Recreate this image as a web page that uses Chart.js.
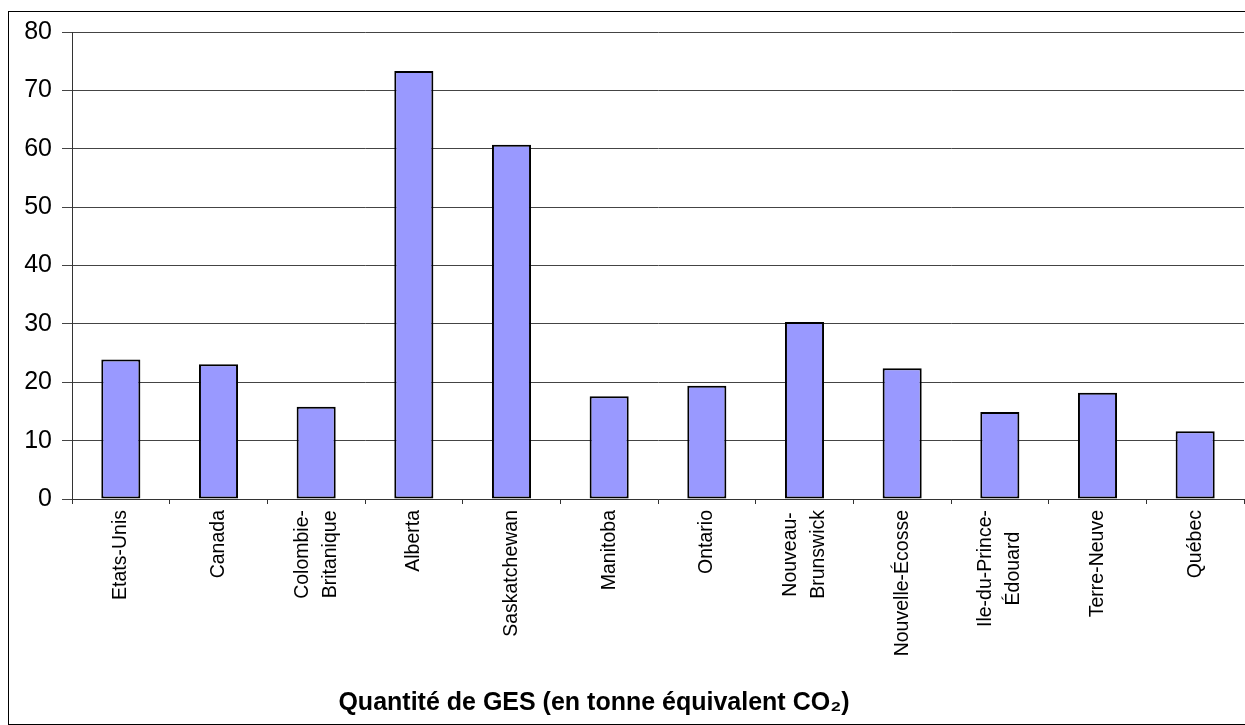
<!DOCTYPE html>
<html lang="fr">
<head>
    <meta charset="UTF-8">
    <title>Quantité de GES par province</title>
    <script src="https://cdn.jsdelivr.net/npm/chart.js"></script>
    <style>
        html, body { margin: 0; padding: 0; background: #fff; overflow: hidden; }
        #frame { position: absolute; left: 8px; top: 11px; width: 1300px; height: 712px; border: 1px solid #000; }
        #wrap { position: absolute; left: 0; top: 0; width: 1245px; height: 725px; }
    </style>
</head>
<body>
    <div id="frame"></div>
    <div id="wrap"><canvas id="gesChart"></canvas></div>

    <script>
        // Data
        const provinces = [
            'Etats-Unis', 'Canada', ['Colombie-', 'Britanique'], 'Alberta', 'Saskatchewan',
            'Manitoba', 'Ontario', ['Nouveau-', 'Brunswick'], 'Nouvelle-Écosse',
            ['Ile-du-Prince-', 'Édouard'], 'Terre-Neuve', 'Québec'
        ];
        const tonnesCO2 = [23.9, 23.1, 15.8, 73.3, 60.7, 17.6, 19.4, 30.3, 22.4, 14.9, 18.2, 11.6];
        const yTicks = [0, 10, 20, 30, 40, 50, 60, 70, 80];
        const titleText = 'Quantité de GES (en tonne équivalent CO₂)';

        // Rotated category labels (lines centred within their block) + bottom title
        const labelPlugin = {
            id: 'provinceLabels',
            afterDraw(chart) {
                const { ctx, scales: { x } } = chart;
                ctx.save();
                ctx.fillStyle = '#000';
                ctx.font = '19.5px "Liberation Sans", Arial, sans-serif';
                ctx.textAlign = 'center';
                ctx.textBaseline = 'middle';
                const top = x.top + 11;
                provinces.forEach((lab, i) => {
                    const lines = Array.isArray(lab) ? lab : [lab];
                    const w = Math.max(...lines.map(l => ctx.measureText(l).width));
                    ctx.save();
                    ctx.translate(x.getPixelForValue(i), top);
                    ctx.rotate(-Math.PI / 2);
                    lines.forEach((l, j) => {
                        ctx.fillText(l, -w / 2, (j - (lines.length - 1) / 2) * 28);
                    });
                    ctx.restore();
                });

                ctx.font = 'bold 25px "Liberation Sans", Arial, sans-serif';
                ctx.textBaseline = 'alphabetic';
                ctx.fillText(titleText, 594, 710);
                ctx.restore();
            }
        };

        const ctx = document.getElementById('gesChart').getContext('2d');
        const gesChart = new Chart(ctx, {
            type: 'bar',
            data: {
                labels: provinces,
                datasets: [{
                    data: tonnesCO2,
                    backgroundColor: '#9999FF',
                    borderColor: '#000000',
                    borderWidth: 2,
                    borderSkipped: false,
                    barPercentage: 0.4,
                    categoryPercentage: 1.0
                }]
            },
            options: {
                responsive: true,
                maintainAspectRatio: false,
                devicePixelRatio: 1,
                animation: false,
                layout: { padding: { top: 32, left: 8, right: 1, bottom: 0 } },
                scales: {
                    x: {
                        grid: { drawOnChartArea: false, drawTicks: true, tickLength: 5, color: '#333' },
                        border: { display: true, color: '#333', width: 1 },
                        ticks: { display: false },
                        afterFit(s) { s.height = 226; }
                    },
                    y: {
                        min: 0,
                        max: 80,
                        afterBuildTicks(s) { s.ticks = yTicks.map(v => ({ value: v })); },
                        grid: { color: '#444', tickLength: 10 },
                        border: { display: true, color: '#333', width: 1 },
                        ticks: {
                            color: '#000',
                            padding: 10,
                            font: { family: '"Liberation Sans", Arial, sans-serif', size: 25 }
                        },
                        afterFit(s) { s.width = 64; }
                    }
                },
                plugins: {
                    legend: { display: false },
                    tooltip: { enabled: false },
                    title: { display: false }
                }
            },
            plugins: [labelPlugin]
        });
    </script>
</body>
</html>
